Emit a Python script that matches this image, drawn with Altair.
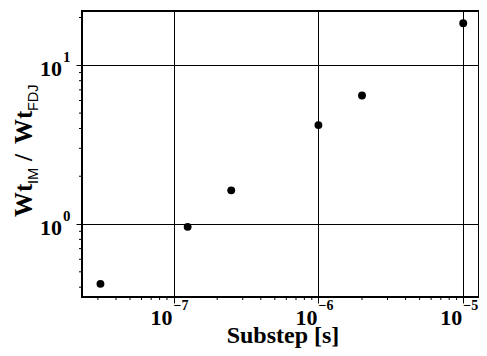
import altair as alt
import pandas as pd

# ---- data ----
substep = [3.125e-8, 1.25e-7, 2.5e-7, 1e-6, 2e-6, 1e-5]
ratio = [0.42, 0.96, 1.63, 4.2, 6.45, 18.4]

x_major = [1e-7, 1e-6, 1e-5]
x_major_exp = ["\u22127", "\u22126", "\u22125"]
y_major = [1.0, 10.0]
y_major_exp = ["0", "1"]
x_minor = [m * 1e-8 for m in range(3, 10)] + [m * 1e-7 for m in range(2, 10)] + [m * 1e-6 for m in range(2, 10)]
y_minor = [m * 0.1 for m in range(4, 10)] + [float(m) for m in range(2, 10)] + [20.0]

X_DOMAIN = [2.33e-8, 1.285e-5]
Y_DOMAIN = [0.347, 21.98]

W, H = 397, 286
SERIF = "Liberation Serif, Times New Roman, Times, serif"
SANS = "Liberation Sans, Arial, Helvetica, sans-serif"

xscale = alt.Scale(type="log", domain=X_DOMAIN, nice=False)
yscale = alt.Scale(type="log", domain=Y_DOMAIN, nice=False)
x_axis = alt.Axis(values=x_major, labels=False, ticks=True, tickSize=6, tickColor="black",
                  tickWidth=1, grid=True, gridColor="black", gridOpacity=1, gridWidth=1,
                  domain=False, title=None)
y_axis = alt.Axis(values=y_major, labels=False, ticks=True, tickSize=6, tickColor="black",
                  tickWidth=1, grid=True, gridColor="black", gridOpacity=1, gridWidth=1,
                  domain=False, title=None)


def X(f):
    return alt.X(f, type="quantitative", scale=xscale, axis=x_axis)


def Y(f):
    return alt.Y(f, type="quantitative", scale=yscale, axis=y_axis)


pts_df = pd.DataFrame({"substep": substep, "ratio": ratio})
xmaj_df = pd.DataFrame({"xv": x_major, "exp": x_major_exp, "base": ["10"] * len(x_major)})
ymaj_df = pd.DataFrame({"yv": y_major, "exp": y_major_exp, "base": ["10"] * len(y_major)})
xmin_df = pd.DataFrame({"xv": x_minor})
ymin_df = pd.DataFrame({"yv": y_minor})

points = alt.Chart(pts_df).mark_circle(size=62, color="black", opacity=1).encode(
    x=X("substep"), y=Y("ratio"))

xminor = alt.Chart(xmin_df).mark_rule(color="black", strokeWidth=1).encode(
    x=X("xv"), y=alt.value(H), y2=alt.value(H + 3))
yminor = alt.Chart(ymin_df).mark_rule(color="black", strokeWidth=1).encode(
    y=Y("yv"), x=alt.value(-3), x2=alt.value(0))

xlab = alt.Chart(xmaj_df).mark_text(font=SERIF, fontWeight="bold", fontSize=22, align="right",
                                    baseline="alphabetic", dx=-1, color="black").encode(
    x=X("xv"), y=alt.value(314), text="base:N")
xexp = alt.Chart(xmaj_df).mark_text(font=SERIF, fontWeight="bold", fontSize=14, align="left",
                                    baseline="alphabetic", dx=0, color="black").encode(
    x=X("xv"), y=alt.value(299), text="exp:N")

ylab = alt.Chart(ymaj_df).mark_text(font=SERIF, fontWeight="bold", fontSize=22, align="right",
                                    baseline="alphabetic", dy=11, color="black").encode(
    y=Y("yv"), x=alt.value(-20), text="base:N")
yexp = alt.Chart(ymaj_df).mark_text(font=SERIF, fontWeight="bold", fontSize=15, align="left",
                                    baseline="alphabetic", dy=-3, color="black").encode(
    y=Y("yv"), x=alt.value(-19), text="exp:N")

xtitle = alt.Chart(pd.DataFrame({"t": ["Substep [s]"]})).mark_text(
    font=SERIF, fontWeight="bold", fontSize=24, align="center", baseline="alphabetic",
    color="black").encode(x=alt.value(201), y=alt.value(332), text="t:N")


def ypiece(txt, ypos, xpos, font, size, weight):
    return alt.Chart(pd.DataFrame({"t": [txt]})).mark_text(
        font=font, fontWeight=weight, fontSize=size, align="left", baseline="alphabetic",
        angle=270, color="black").encode(x=alt.value(xpos), y=alt.value(ypos), text="t:N")


yt1 = ypiece("Wt", 206, -50, SERIF, 25, "bold")
yt2 = ypiece("IM", 173, -44, SANS, 14.5, "normal")
yt3 = ypiece("/", 150, -50, SERIF, 25, "bold")
yt4 = ypiece("Wt", 133, -50, SERIF, 25, "bold")
yt5 = ypiece("FDJ", 100, -44, SANS, 14.5, "normal")

chart = alt.layer(points, xminor, yminor, xlab, xexp, ylab, yexp, xtitle,
                  yt1, yt2, yt3, yt4, yt5).properties(
    width=W, height=H,
    autosize=alt.AutoSizeParams(type="none"),
    padding={"left": 74, "top": 3, "right": 0, "bottom": 51},
    background="white",
).configure_view(stroke="black", strokeWidth=2)

chart.save("out.html", embed_options={"renderer": "svg", "actions": False})
